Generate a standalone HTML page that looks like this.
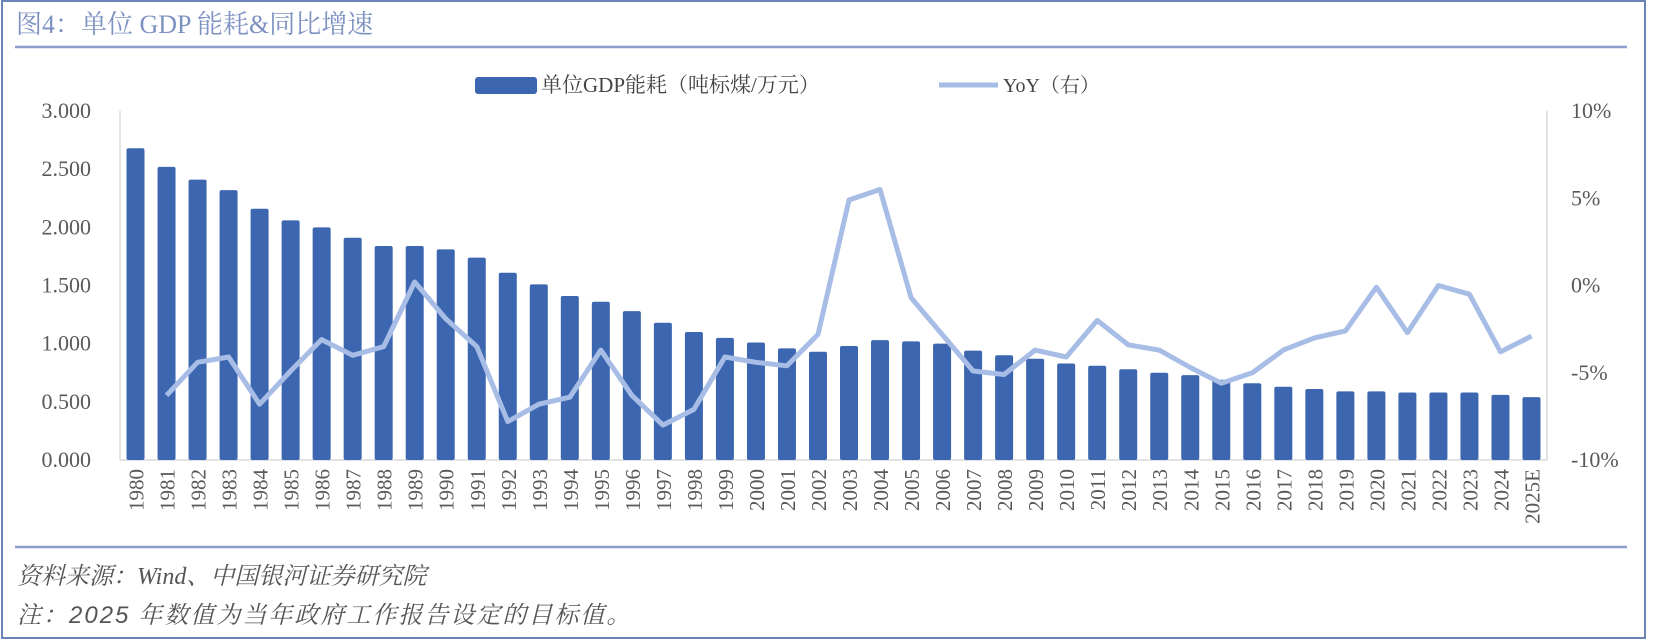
<!DOCTYPE html>
<html><head><meta charset="utf-8">
<style>
html,body{margin:0;padding:0;background:#fff;}
#wrap{position:relative;width:1654px;height:642px;overflow:hidden;font-family:"Liberation Serif","Noto Serif CJK SC",serif;}
</style></head>
<body>
<div id="wrap">
<svg id="chart" width="1654" height="642" xmlns="http://www.w3.org/2000/svg">
  <rect x="2" y="1" width="1643" height="637" fill="none" stroke="#6a84b6" stroke-width="2"/>
  <text x="16" y="33" font-size="26" fill="#7d92c2" font-family="Liberation Serif, Noto Serif CJK SC, serif">图4：单位 GDP 能耗&amp;同比增速</text>
  <line x1="15" y1="47" x2="1627" y2="47" stroke="#8c9ecb" stroke-width="2.5"/>
  <g>
    <rect x="475" y="77" width="62" height="17" rx="3" fill="#3c66b0"/>
    <text x="541" y="92" font-size="21" fill="#444" font-family="Liberation Serif, Noto Serif CJK SC, serif">单位GDP能耗（吨标煤/万元）</text>
    <line x1="939" y1="85" x2="998" y2="85" stroke="#a7bde6" stroke-width="5"/>
    <text x="1003" y="92" font-size="20" fill="#444" font-family="Liberation Serif, Noto Serif CJK SC, serif">YoY（右）</text>
  </g>
  <line x1="120" y1="111" x2="120" y2="460" stroke="#d9d9d9" stroke-width="1.5"/>
  <line x1="1547" y1="111" x2="1547" y2="460" stroke="#d9d9d9" stroke-width="1.5"/>
  <line x1="120" y1="460" x2="1547" y2="460" stroke="#d9d9d9" stroke-width="1.5"/>
  <g id="bars"></g>
  <g id="lines"></g>
  <g id="ticks"></g>
  <line x1="15" y1="547" x2="1627" y2="547" stroke="#8c9ecb" stroke-width="2.5"/>
  <text x="17" y="584" font-size="24" font-style="italic" fill="#555" font-family="Liberation Serif, Noto Serif CJK SC, serif">资料来源：Wind、中国银河证券研究院</text>
  <text x="17" y="623" font-size="24" font-style="italic" letter-spacing="2" fill="#555" font-family="Liberation Serif, Noto Serif CJK SC, serif">注：<tspan font-family="Liberation Sans, sans-serif">2025</tspan> 年数值为当年政府工作报告设定的目标值。</text>
</svg>
</div>
<script>
const years = ["1980","1981","1982","1983","1984","1985","1986","1987","1988","1989","1990","1991","1992","1993","1994","1995","1996","1997","1998","1999","2000","2001","2002","2003","2004","2005","2006","2007","2008","2009","2010","2011","2012","2013","2014","2015","2016","2017","2018","2019","2020","2021","2022","2023","2024","2025E"];
const energy = [2.68,2.52,2.41,2.32,2.16,2.06,2.00,1.91,1.84,1.84,1.81,1.74,1.61,1.51,1.41,1.36,1.28,1.18,1.10,1.05,1.01,0.96,0.93,0.98,1.03,1.02,1.00,0.94,0.90,0.87,0.83,0.81,0.78,0.75,0.73,0.69,0.66,0.63,0.61,0.59,0.59,0.58,0.58,0.58,0.56,0.54];
const yoy = [null,-6.3,-4.4,-4.1,-6.8,-4.9,-3.1,-4.0,-3.5,0.2,-1.9,-3.5,-7.8,-6.8,-6.4,-3.7,-6.3,-8.0,-7.1,-4.1,-4.4,-4.6,-2.8,4.9,5.5,-0.7,-2.8,-4.9,-5.1,-3.7,-4.1,-2.0,-3.4,-3.7,-4.7,-5.6,-5.0,-3.7,-3.0,-2.6,-0.1,-2.7,0.0,-0.5,-3.8,-2.9];
const leftTicks = ["0.000","0.500","1.000","1.500","2.000","2.500","3.000"];
const leftTickVals = [0,0.5,1,1.5,2,2.5,3];
const rightTicks = ["-10%","-5%","0%","5%","10%"];
const rightTickVals = [-10,-5,0,5,10];

const NS = "http://www.w3.org/2000/svg";
const X0 = 120, X1 = 1547, YB = 460, YT = 111;
const step = (X1 - X0) / years.length;
const xc = i => X0 + step * (i + 0.5);
const yL = v => YB - (v / 3) * (YB - YT);
const yR = v => YB - ((v + 10) / 20) * (YB - YT);
const F = "Liberation Serif, Noto Serif CJK SC, serif";

const gb = document.getElementById('bars');
energy.forEach((v, i) => {
  const r = document.createElementNS(NS, 'rect');
  r.setAttribute('x', xc(i) - 9);
  r.setAttribute('y', yL(v));
  r.setAttribute('width', 18);
  r.setAttribute('height', YB - yL(v));
  r.setAttribute('rx', 2);
  r.setAttribute('fill', '#3c66b0');
  
  
  gb.appendChild(r);
});

const gl = document.getElementById('lines');
let d = '';
yoy.forEach((v, i) => { if (v === null) return; d += (d ? 'L' : 'M') + xc(i).toFixed(1) + ' ' + yR(v).toFixed(1) + ' '; });
const p = document.createElementNS(NS, 'path');
p.setAttribute('d', d);
p.setAttribute('fill', 'none');
p.setAttribute('stroke', '#a7bde6');
p.setAttribute('stroke-width', 5);
p.setAttribute('stroke-linejoin', 'round');


gl.appendChild(p);

const gt = document.getElementById('ticks');
leftTicks.forEach((t, i) => {
  const e = document.createElementNS(NS, 'text');
  e.setAttribute('x', 91); e.setAttribute('y', yL(leftTickVals[i]) + 7);
  e.setAttribute('text-anchor', 'end'); e.setAttribute('font-size', 22);
  e.setAttribute('fill', '#595959'); e.setAttribute('font-family', F);
  e.textContent = t;
  
  
  gt.appendChild(e);
});
rightTicks.forEach((t, i) => {
  const e = document.createElementNS(NS, 'text');
  e.setAttribute('x', 1571); e.setAttribute('y', yR(rightTickVals[i]) + 7);
  e.setAttribute('font-size', 22);
  e.setAttribute('fill', '#595959'); e.setAttribute('font-family', F);
  e.textContent = t;
  
  
  gt.appendChild(e);
});
years.forEach((t, i) => {
  const e = document.createElementNS(NS, 'text');
  const x = xc(i) + 8, y = 469;
  e.setAttribute('x', x); e.setAttribute('y', y);
  e.setAttribute('text-anchor', 'end'); e.setAttribute('font-size', 21);
  e.setAttribute('fill', '#595959'); e.setAttribute('font-family', F);
  e.setAttribute('transform', 'rotate(-90 ' + x + ' ' + y + ')');
  e.textContent = t;
  
  
  gt.appendChild(e);
});
</script>
</body></html>
